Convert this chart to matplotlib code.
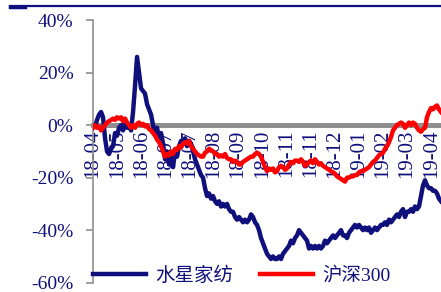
import numpy as np
import matplotlib
matplotlib.use("Agg")
import matplotlib.pyplot as plt
from matplotlib.lines import Line2D

# ---- data (cumulative return, %) ----
tick_labels = ["18-04", "18-05", "18-06", "18-07", "18-07", "18-08", "18-09", "18-10",
               "18-11", "18-11", "18-12", "19-01", "19-02", "19-03", "19-04"]

stock = [
    -1, -0.5, 2, 4, 5, 3, -5, -10, -11, -9,
    -8, -3, -4, -1, 0, -2, 1, -1, 0, -2,
    5, 15, 26, 20, 14, 13, 12, 8, 6, 4,
    0, -3, -1, -5, -3, -7, -13, -10, -15, -12,
    -16, -10, -12, -8, -6, -7, -5, -8, -6, -7,
    -10, -13, -15, -17, -19, -20, -24, -27, -26, -28,
    -27, -29, -30, -29, -31, -30, -31, -30, -32, -33,
    -33, -35, -36, -35, -36, -37, -36, -37, -36, -34,
    -35, -37, -38, -40, -43, -45, -47, -49, -50, -51,
    -50, -51, -51, -50, -51, -49, -48, -47, -46, -44,
    -45, -43, -42, -40, -41, -42, -43, -44, -47, -46,
    -47, -46, -47, -46, -47, -46, -44, -45, -44, -43,
    -42, -43, -42, -41, -40, -42, -42, -43, -41, -40,
    -39, -38, -39, -38, -39, -40, -39, -40, -39, -41,
    -40, -39, -40, -39, -38, -38, -37, -38, -36, -37,
    -36, -35, -34, -35, -33, -32, -35, -33, -33, -32,
    -33, -31, -32, -31, -27, -23, -21, -23, -24, -24,
    -25, -25, -26, -28, -29,
]

index300 = [
    -1, 0, -1, -0.5, -2, -1, 0, 1, 1.5, 2,
    2.5, 2, 3, 2.5, 3, 1.5, 2.5, 1, 0, -1,
    0, -1, 0.5, 1, 0, 0.5, -0.5, 0, -1.5, -2,
    -3, -4, -5.5, -6.5, -8, -10, -12, -11, -11.5, -10,
    -11, -9, -9.5, -8, -8.5, -7, -6.5, -7, -6, -8,
    -9, -10, -11, -11.5, -12, -12, -10.5, -10, -9, -9.5,
    -10, -11, -11, -12, -11.5, -12, -11, -12.5, -13, -13,
    -14, -13.5, -14, -15, -15, -14, -13.5, -13, -12.5, -12,
    -12, -11, -10.5, -11, -12, -14, -16, -17.5, -16.5, -17,
    -16.5, -18, -17.5, -16, -15.5, -16, -17, -16.5, -15, -14,
    -14.5, -13.5, -13.5, -14, -13, -14, -15.5, -15, -14, -13.5,
    -14.5, -13, -14, -15, -14.5, -15.5, -16, -16.5, -17, -17.5,
    -18, -18.5, -19.5, -20, -20.5, -21, -21.5, -20, -20, -19.5,
    -19.5, -19, -19, -18, -17.5, -17.5, -17, -16.5, -16, -15,
    -14, -13.5, -12.5, -11.5, -11, -10.5, -9, -8, -6.5, -4.5,
    -2, -1, 0, 0.5, 1, 0.5, -1, 0, 1, 0,
    1, 0.5, -1, -2, -2.5, -1.5, -1, 3, 5, 6.5,
    6, 7, 7.5, 6, 5,
]

navy = "#10107c"
red = "#ff0000"
grey = "#8f8f8f"
serif = ["Liberation Serif", "Noto Sans CJK SC"]

x = np.arange(len(stock))
tick_step = (len(stock) - 1) / 14.4

fig = plt.figure(figsize=(4.41, 2.92), dpi=100)
ax = fig.add_axes([0.211, 0.032, 0.789, 0.899])

ax.plot(x, stock, color=navy, lw=3.2, label="水星家纺", zorder=3)
ax.plot(x, index300, color=red, lw=3.2, label="沪深300", zorder=4)

for s in ["top", "right"]:
    ax.spines[s].set_visible(False)
ax.spines["left"].set_color(grey)
ax.spines["left"].set_linewidth(1.2)
ax.spines["bottom"].set_position(("data", 0))
ax.spines["bottom"].set_color(grey)
ax.spines["bottom"].set_linewidth(3.6)
ax.spines["bottom"].set_zorder(1)
ax.tick_params(axis="y", length=5, width=1.2, color=grey, pad=9)
ax.tick_params(axis="x", length=0, pad=3)

ax.set_xlim(0, len(stock) - 1)
ax.set_ylim(-60, 40)
ax.set_yticks(np.arange(-60, 41, 20))
ax.set_yticklabels([f"{v}%" for v in range(-60, 41, 20)], fontsize=14,
                   family=serif, color=navy)
ax.set_xticks(np.arange(len(tick_labels)) * tick_step)
ax.set_xticklabels(tick_labels, fontsize=15, family=serif, color=navy,
                   rotation=90, ha="center", va="top")

leg = ax.legend(loc="center left", bbox_to_anchor=(0, 0.028), ncol=2,
                frameon=False, borderaxespad=0, borderpad=0,
                handlelength=2.7, handletextpad=0.5, columnspacing=1.4,
                prop={"family": serif, "size": 14})
for t in leg.get_texts():
    t.set_color(navy)

# header rule
fig.add_artist(Line2D([10 / 441, 1], [1 - 5.5 / 292] * 2, transform=fig.transFigure,
                      color=navy, lw=1.6))
fig.add_artist(Line2D([10 / 441, 25 / 441], [1 - 6.5 / 292] * 2, transform=fig.transFigure,
                      color=navy, lw=2.5))

fig.savefig("out.png", dpi=100)
